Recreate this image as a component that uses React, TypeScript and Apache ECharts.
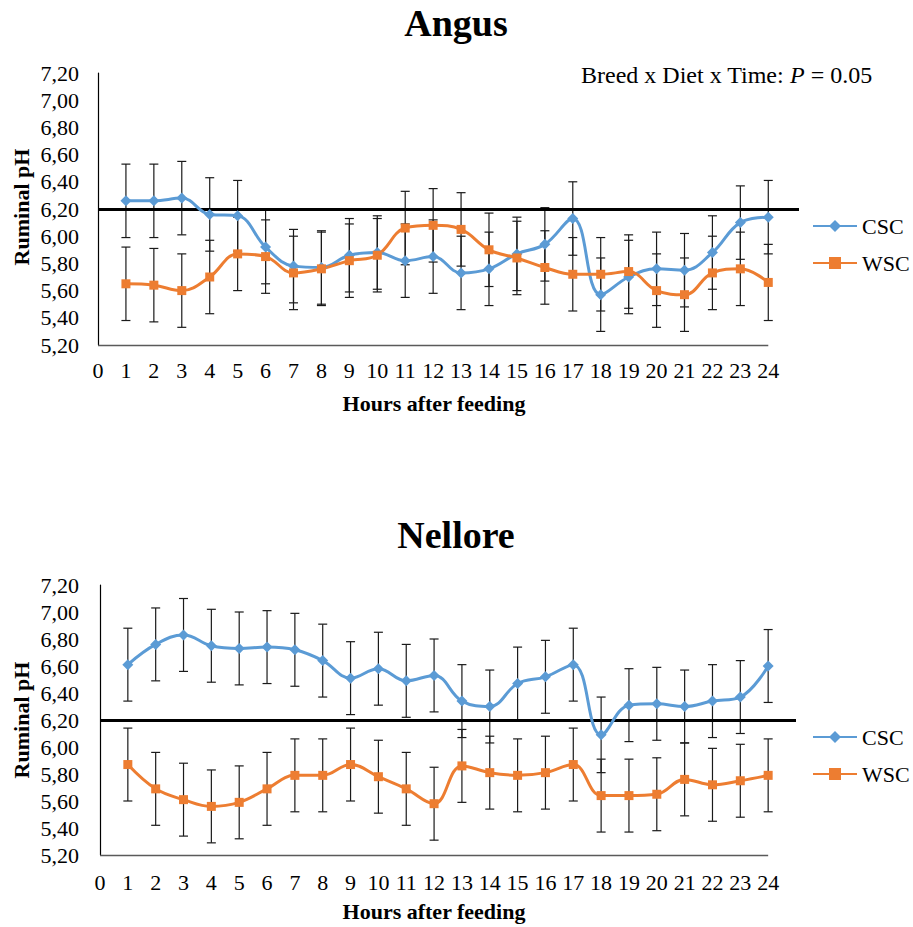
import React, { useEffect, useRef } from "react";
import * as echarts from "echarts";

// Hours after feeding
const hours = [1, 2, 3, 4, 5, 6, 7, 8, 9, 10, 11, 12, 13, 14, 15, 16, 17, 18, 19, 20, 21, 22, 23, 24];

// Angus ruminal pH (mean and standard error)
const angusCSC = [6.26, 6.26, 6.28, 6.16, 6.15, 5.92, 5.78, 5.77, 5.86, 5.88, 5.82, 5.85, 5.73, 5.76, 5.87, 5.94, 6.13, 5.57, 5.70, 5.76, 5.75, 5.88, 6.10, 6.14];
const angusCSCErr = [0.27, 0.27, 0.27, 0.27, 0.26, 0.27, 0.27, 0.27, 0.27, 0.27, 0.27, 0.27, 0.27, 0.27, 0.27, 0.27, 0.27, 0.27, 0.27, 0.27, 0.27, 0.27, 0.27, 0.27];
const angusWSC = [5.65, 5.64, 5.60, 5.70, 5.87, 5.85, 5.73, 5.76, 5.82, 5.86, 6.06, 6.08, 6.05, 5.90, 5.84, 5.77, 5.72, 5.72, 5.74, 5.60, 5.57, 5.73, 5.76, 5.66];
const angusWSCErr = [0.27, 0.27, 0.27, 0.27, 0.27, 0.27, 0.27, 0.27, 0.27, 0.27, 0.27, 0.27, 0.27, 0.27, 0.27, 0.27, 0.27, 0.27, 0.27, 0.27, 0.27, 0.27, 0.27, 0.28];

// Nellore ruminal pH (mean and standard error)
const nelloreCSC = [6.61, 6.76, 6.83, 6.75, 6.73, 6.74, 6.72, 6.64, 6.51, 6.58, 6.49, 6.53, 6.34, 6.30, 6.47, 6.52, 6.61, 6.09, 6.31, 6.32, 6.30, 6.34, 6.37, 6.60];
const nelloreCSCErr = [0.27, 0.27, 0.27, 0.27, 0.27, 0.27, 0.27, 0.27, 0.27, 0.27, 0.27, 0.27, 0.27, 0.27, 0.27, 0.27, 0.27, 0.28, 0.27, 0.27, 0.27, 0.27, 0.27, 0.27];
const nelloreWSC = [5.87, 5.69, 5.61, 5.56, 5.59, 5.69, 5.79, 5.79, 5.87, 5.78, 5.69, 5.58, 5.86, 5.81, 5.79, 5.81, 5.87, 5.64, 5.64, 5.65, 5.76, 5.72, 5.75, 5.79];
const nelloreWSCErr = [0.27, 0.27, 0.27, 0.27, 0.27, 0.27, 0.27, 0.27, 0.27, 0.27, 0.27, 0.27, 0.27, 0.27, 0.27, 0.27, 0.27, 0.27, 0.27, 0.27, 0.27, 0.27, 0.27, 0.27];

// Critical pH threshold
const thresholdPH = 6.2;

const FONT = '"Liberation Serif", "Times New Roman", serif';
const BLUE = "#5B9BD5";
const ORANGE = "#ED7D31";

const pairs = (vals: number[]) => hours.map((h, i) => [h, vals[i]]);
const triples = (vals: number[], errs: number[]) => hours.map((h, i) => [h, vals[i], errs[i]]);

const errorBarRender = (params: any, api: any) => {
  const x = api.value(0);
  const y = api.value(1);
  const e = api.value(2);
  const top = api.coord([x, y + e]);
  const bot = api.coord([x, y - e]);
  const hw = 4.5;
  const style = { stroke: "#1a1a1a", lineWidth: 1.2 };
  return {
    type: "group",
    children: [
      { type: "line", shape: { x1: top[0], y1: top[1], x2: bot[0], y2: bot[1] }, style },
      { type: "line", shape: { x1: top[0] - hw, y1: top[1], x2: top[0] + hw, y2: top[1] }, style },
      { type: "line", shape: { x1: bot[0] - hw, y1: bot[1], x2: bot[0] + hw, y2: bot[1] }, style },
    ],
  };
};

const makeXAxis = (gridIndex: number, max: number, margin: number) => ({
  type: "value",
  gridIndex,
  min: 0,
  max,
  interval: 1,
  axisLine: { show: false },
  axisTick: { show: false },
  splitLine: { show: false },
  axisLabel: {
    margin,
    fontSize: 22,
    fontFamily: FONT,
    color: "#000",
    formatter: (v: number) => (v <= 24 && Number.isInteger(v) ? String(v) : ""),
  },
});

const makeYAxis = (gridIndex: number, margin: number) => ({
  type: "value",
  gridIndex,
  min: 5.2,
  max: 7.2,
  interval: 0.2,
  axisLine: { show: true, lineStyle: { color: "#000", width: 1.2 } },
  axisTick: { show: false },
  splitLine: { show: false },
  axisLabel: {
    margin,
    fontSize: 22,
    fontFamily: FONT,
    color: "#000",
    formatter: (v: number) => v.toFixed(2).replace(".", ","),
  },
});

const lineSeries = (name: string, vals: number[], idx: number, color: string, symbol: string, size: number, lineEnd: number) => ({
  name,
  type: "line",
  xAxisIndex: idx,
  yAxisIndex: idx,
  data: pairs(vals),
  smooth: 0.4,
  symbol,
  symbolSize: size,
  z: 3,
  lineStyle: { color, width: 3 },
  itemStyle: { color },
  markLine:
    name === "CSC"
      ? {
          silent: true,
          symbol: "none",
          label: { show: false },
          z: 2,
          data: [
            [
              { coord: [0, thresholdPH], lineStyle: { color: "#000", width: 3, type: "solid" } },
              { coord: [lineEnd, thresholdPH] },
            ],
            [
              { coord: [0, 5.2], lineStyle: { color: "#5a5a5a", width: 1.3, type: "solid" } },
              { coord: [24, 5.2] },
            ],
          ],
        }
      : undefined,
});

const errorSeries = (name: string, vals: number[], errs: number[], idx: number) => ({
  name,
  type: "custom",
  xAxisIndex: idx,
  yAxisIndex: idx,
  data: triples(vals, errs),
  encode: { x: 0, y: 1 },
  renderItem: errorBarRender,
  z: 1,
  silent: true,
});

const legendCfg = (top: number) => ({
  data: ["CSC", "WSC"],
  orient: "vertical",
  left: 812,
  top,
  itemWidth: 44,
  itemHeight: 15,
  itemGap: 15,
  padding: 0,
  textStyle: { fontSize: 22, fontFamily: FONT, color: "#000", lineHeight: 22 },
});

const textEl = (text: string, x: number, y: number, size: number, bold: boolean, rotation = 0) => ({
  type: "text",
  x,
  y,
  rotation,
  silent: true,
  style: {
    text,
    fontSize: size,
    fontWeight: bold ? "bold" : "normal",
    fontFamily: FONT,
    fill: "#000",
    align: "center",
    verticalAlign: "middle",
  },
});

export default function App() {
  const ref = useRef<HTMLDivElement>(null);

  useEffect(() => {
    if (!ref.current) return;
    const chart = echarts.init(ref.current, undefined, { renderer: "svg" });
    const option: any = {
      animation: false,
      backgroundColor: "#fff",
      textStyle: { fontFamily: FONT },
      grid: [
        { left: 98, top: 73, width: 701, height: 272 },
        { left: 100, top: 585, width: 696, height: 270 },
      ],
      xAxis: [makeXAxis(0, 25.1, 14), makeXAxis(1, 25.0, 16)],
      yAxis: [makeYAxis(0, 19), makeYAxis(1, 21)],
      legend: [legendCfg(215), legendCfg(726)],
      graphic: [
        textEl("Angus", 456, 23, 38, true),
        textEl("Nellore", 456, 535, 38, true),
        textEl("Ruminal pH", 21, 207, 22, true, Math.PI / 2),
        textEl("Ruminal pH", 21, 720, 22, true, Math.PI / 2),
        textEl("Hours after feeding", 434, 403, 22, true),
        textEl("Hours after feeding", 434, 911, 22, true),
        {
          type: "text",
          x: 581,
          y: 75,
          silent: true,
          style: {
            text: "{a|Breed x Diet x Time: }{b|P}{a| = 0.05}",
            verticalAlign: "middle",
            align: "left",
            rich: {
              a: { fontSize: 24, fontFamily: FONT, fill: "#000", color: "#000" },
              b: { fontSize: 24, fontFamily: FONT, fontStyle: "italic", fill: "#000", color: "#000" },
            },
          },
        },
      ],
      series: [
        errorSeries("CSC SE Angus", angusCSC, angusCSCErr, 0),
        errorSeries("WSC SE Angus", angusWSC, angusWSCErr, 0),
        lineSeries("CSC", angusCSC, 0, BLUE, "diamond", 11, 25.1),
        lineSeries("WSC", angusWSC, 0, ORANGE, "rect", 9, 25.1),
        errorSeries("CSC SE Nellore", nelloreCSC, nelloreCSCErr, 1),
        errorSeries("WSC SE Nellore", nelloreWSC, nelloreWSCErr, 1),
        lineSeries("CSC", nelloreCSC, 1, BLUE, "diamond", 11, 25.0),
        lineSeries("WSC", nelloreWSC, 1, ORANGE, "rect", 9, 25.0),
      ],
    };
    chart.setOption(option);
    return () => chart.dispose();
  }, []);

  return (
    <div
      ref={ref}
      style={{ position: "absolute", left: 0, top: 0, width: 913, height: 927, background: "#fff" }}
    />
  );
}
